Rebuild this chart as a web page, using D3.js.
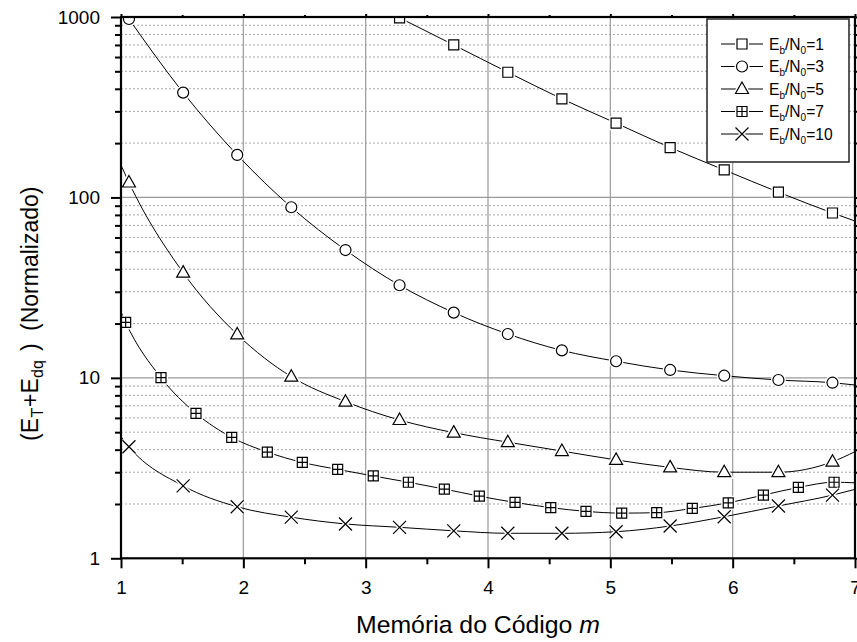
<!DOCTYPE html>
<html><head><meta charset="utf-8">
<script src="https://cdn.jsdelivr.net/npm/d3@7"></script>
<style>
body{margin:0;background:#fff}
svg{display:block}
text{font-family:"Liberation Sans",Arial,Helvetica,sans-serif;fill:#000}
</style>
</head><body>
<script>
// ---------- data ----------
const xTicks = [1, 2, 3, 4, 5, 6, 7];
const xMinorTicks = [1.5, 2.5, 3.5, 4.5, 5.5, 6.5];
const yTicks = [1, 10, 100, 1000];
const yMinorTicks = [2,3,4,5,6,7,8,9,20,30,40,50,60,70,80,90,200,300,400,500,600,700,800,900];
const seriesLabels = ["1", "3", "5", "7", "10"];
const markerTypes = ["square", "circle", "triangle", "boxplus", "cross"];
// marker abscissas (m) for the curves
const mA = [1.065,1.508,1.950,2.392,2.835,3.277,3.720,4.162,4.604,5.047,5.489,5.931,6.374,6.816];
const mB = [1.038,1.327,1.613,1.905,2.196,2.482,2.771,3.062,3.349,3.643,3.929,4.221,4.513,4.801,5.093,5.379,5.670,5.964,6.251,6.537,6.829];
// values at the markers
const eb1  = [null,null,null,null,null,990,700,494,352,258,189,142,107,82];
const eb3  = [975,381,172,88.2,51.1,32.6,23.0,17.5,14.2,12.36,11.06,10.28,9.73,9.4];
const eb5  = [121,38.3,17.4,10.15,7.38,5.84,4.97,4.40,3.93,3.51,3.19,3.00,3.00,3.43];
const eb7  = [20.3,10.02,6.36,4.68,3.88,3.40,3.11,2.86,2.64,2.42,2.21,2.04,1.91,1.82,1.78,1.79,1.89,2.03,2.24,2.47,2.64];
const eb10 = [4.15,2.52,1.93,1.69,1.55,1.485,1.42,1.376,1.376,1.404,1.51,1.70,1.95,2.24];
// curve values at the plot edges m = 1 and m = 7
const valueAtM1 = [null, null, 151, 23.2, 4.72];
const valueAtM7 = [74, 9.13, 3.9, 2.62, 2.41];

const seriesM = [mA, mA, mA, mB, mA];
const seriesV = [eb1, eb3, eb5, eb7, eb10];

// ---------- layout ----------
const W = 857, H = 642;
const L = 121, R = 855, T = 17, B = 558.3;

const svg = d3.select("body").append("svg").attr("width", W).attr("height", H);
const x = d3.scaleLinear().domain([1, 7]).range([L, R]);
const y = d3.scaleLog().domain([1, 1000]).range([B, T]);

svg.append("defs").append("clipPath").attr("id", "clip")
  .append("rect").attr("x", L).attr("y", T).attr("width", R - L).attr("height", B - T);

// ---------- grid ----------
const grid = svg.append("g");
grid.selectAll(".gm").data(yMinorTicks).join("line")
  .attr("x1", L).attr("x2", R).attr("y1", d => y(d)).attr("y2", d => y(d))
  .attr("stroke", "#a8a8a8").attr("stroke-width", 1).attr("stroke-dasharray", "2,2");
grid.selectAll(".gM").data(yTicks.filter(d => d > 1 && d < 1000)).join("line")
  .attr("x1", L).attr("x2", R).attr("y1", d => y(d)).attr("y2", d => y(d))
  .attr("stroke", "#9a9a9a").attr("stroke-width", 1.2);
grid.selectAll(".gx").data(xTicks.filter(d => d > 1 && d < 7)).join("line")
  .attr("y1", T).attr("y2", B).attr("x1", d => x(d)).attr("x2", d => x(d))
  .attr("stroke", "#9a9a9a").attr("stroke-width", 1.2);

// ---------- series ----------
const series = seriesLabels.map((lab, i) => {
  const pts = [];
  if (valueAtM1[i] != null) pts.push({m: 1, v: valueAtM1[i], mk: false});
  seriesM[i].forEach((m, k) => { if (seriesV[i][k] != null) pts.push({m, v: seriesV[i][k], mk: true}); });
  if (valueAtM7[i] != null) pts.push({m: 7, v: valueAtM7[i], mk: false});
  return {lab, type: markerTypes[i], pts};
});

const line = d3.line().x(d => x(d.m)).y(d => y(d.v)).curve(d3.curveMonotoneX);
const plot = svg.append("g").attr("clip-path", "url(#clip)");

series.forEach(s => {
  plot.append("path").attr("d", line(s.pts)).attr("fill", "none")
    .attr("stroke", "#000").attr("stroke-width", 1);
});

function markerPath(type) {
  const p = d3.path();
  if (type === "square") { p.rect(-5, -5, 10, 10); }
  else if (type === "circle") { p.arc(0, 0, 5.5, 0, 2 * Math.PI); }
  else if (type === "triangle") { p.moveTo(0, -7); p.lineTo(6.5, 4.5); p.lineTo(-6.5, 4.5); p.closePath(); }
  else if (type === "boxplus") { p.rect(-5, -5, 10, 10); p.moveTo(0, -5); p.lineTo(0, 5); p.moveTo(-5, 0); p.lineTo(5, 0); }
  else if (type === "cross") { p.moveTo(-6.5, -6.5); p.lineTo(6.5, 6.5); p.moveTo(6.5, -6.5); p.lineTo(-6.5, 6.5); }
  return p.toString();
}
function drawMarker(g, type, cx, cy) {
  g.append("path").attr("d", markerPath(type)).attr("transform", `translate(${cx},${cy})`)
    .attr("fill", type === "cross" ? "none" : "#fff").attr("stroke", "#fff").attr("stroke-width", 4);
  g.append("path").attr("d", markerPath(type)).attr("transform", `translate(${cx},${cy})`)
    .attr("fill", type === "cross" ? "none" : "#fff").attr("stroke", "#000").attr("stroke-width", 1.2);
}
series.forEach(s => {
  s.pts.filter(d => d.mk).forEach(d => drawMarker(plot, s.type, x(d.m), y(d.v)));
});

// ---------- axes ----------
const axFont = "19px";
const gl = svg.append("g").attr("transform", `translate(${L},0)`)
  .call(d3.axisLeft(y).tickValues(yTicks).tickFormat(d3.format("d")).tickSize(10).tickPadding(11));
const glm = svg.append("g").attr("transform", `translate(${L},0)`)
  .call(d3.axisLeft(y).tickValues(yMinorTicks).tickFormat("").tickSize(6));
const gb = svg.append("g").attr("transform", `translate(0,${B})`)
  .call(d3.axisBottom(x).tickValues(xTicks).tickFormat(d3.format("d")).tickSize(10).tickPadding(12));
const gbm = svg.append("g").attr("transform", `translate(0,${B})`)
  .call(d3.axisBottom(x).tickValues(xMinorTicks).tickFormat("").tickSize(6));
const gt = svg.append("g").attr("transform", `translate(0,${T})`)
  .call(d3.axisTop(x).tickValues(xTicks).tickFormat("").tickSize(3));
const gtm = svg.append("g").attr("transform", `translate(0,${T})`)
  .call(d3.axisTop(x).tickValues(xMinorTicks).tickFormat("").tickSize(2));
const gr = svg.append("g").attr("transform", `translate(${R},0)`)
  .call(d3.axisRight(y).tickValues(yTicks).tickFormat("").tickSize(3));
const grm = svg.append("g").attr("transform", `translate(${R},0)`)
  .call(d3.axisRight(y).tickValues(yMinorTicks).tickFormat("").tickSize(2));
[gl, glm, gb, gbm, gt, gtm, gr, grm].forEach(g => {
  g.select(".domain").remove();
  g.selectAll(".tick line").attr("stroke", "#000").attr("stroke-width", 2);
  g.selectAll(".tick text").style("font-size", axFont).attr("fill", "#000")
    .style("font-family", '"Liberation Sans",Arial,sans-serif');
});
// frame
svg.append("rect").attr("x", L).attr("y", T).attr("width", R - L).attr("height", B - T)
  .attr("fill", "none").attr("stroke", "#000").attr("stroke-width", 2.2);

// ---------- axis titles ----------
const xt = svg.append("text").attr("x", 356).attr("y", 633).style("font-size", "24.8px");
xt.append("tspan").text("Memória do Código ");
xt.append("tspan").attr("font-style", "italic").text("m");

const yt = svg.append("text").attr("transform", "translate(38,441) rotate(-90)").style("font-size", "23px");
yt.append("tspan").attr("x", 0).attr("y", 0).text("(E");
yt.append("tspan").attr("x", 23.5).attr("y", 5).style("font-size", "16px").text("T");
yt.append("tspan").attr("x", 34).attr("y", 0).text("+E");
yt.append("tspan").attr("x", 63).attr("y", 5).style("font-size", "16px").text("dq");
yt.append("tspan").attr("x", 90).attr("y", 0).text(")");
yt.append("tspan").attr("x", 110).attr("y", 0).text("(Normalizado)");

// ---------- legend ----------
const lg = svg.append("g");
lg.append("rect").attr("x", 707).attr("y", 19).attr("width", 142).attr("height", 143)
  .attr("fill", "#fff").attr("stroke", "#222").attr("stroke-width", 1.5);
const rowY = [44, 66.5, 89, 111.5, 134];
series.forEach((s, i) => {
  const ry = rowY[i];
  lg.append("line").attr("x1", 721).attr("x2", 763).attr("y1", ry).attr("y2", ry)
    .attr("stroke", "#000").attr("stroke-width", 1);
  drawMarker(lg, s.type, 742, ry);
  const t = lg.append("text").attr("x", 769).attr("y", ry + 5.5).style("font-size", "15.6px");
  t.append("tspan").text("E");
  t.append("tspan").attr("dy", 4).style("font-size", "10px").text("b");
  t.append("tspan").attr("dy", -4).text("/N");
  t.append("tspan").attr("dy", 4).style("font-size", "10px").text("0");
  t.append("tspan").attr("dy", -4).text("=" + s.lab);
});
</script>
</body></html>
